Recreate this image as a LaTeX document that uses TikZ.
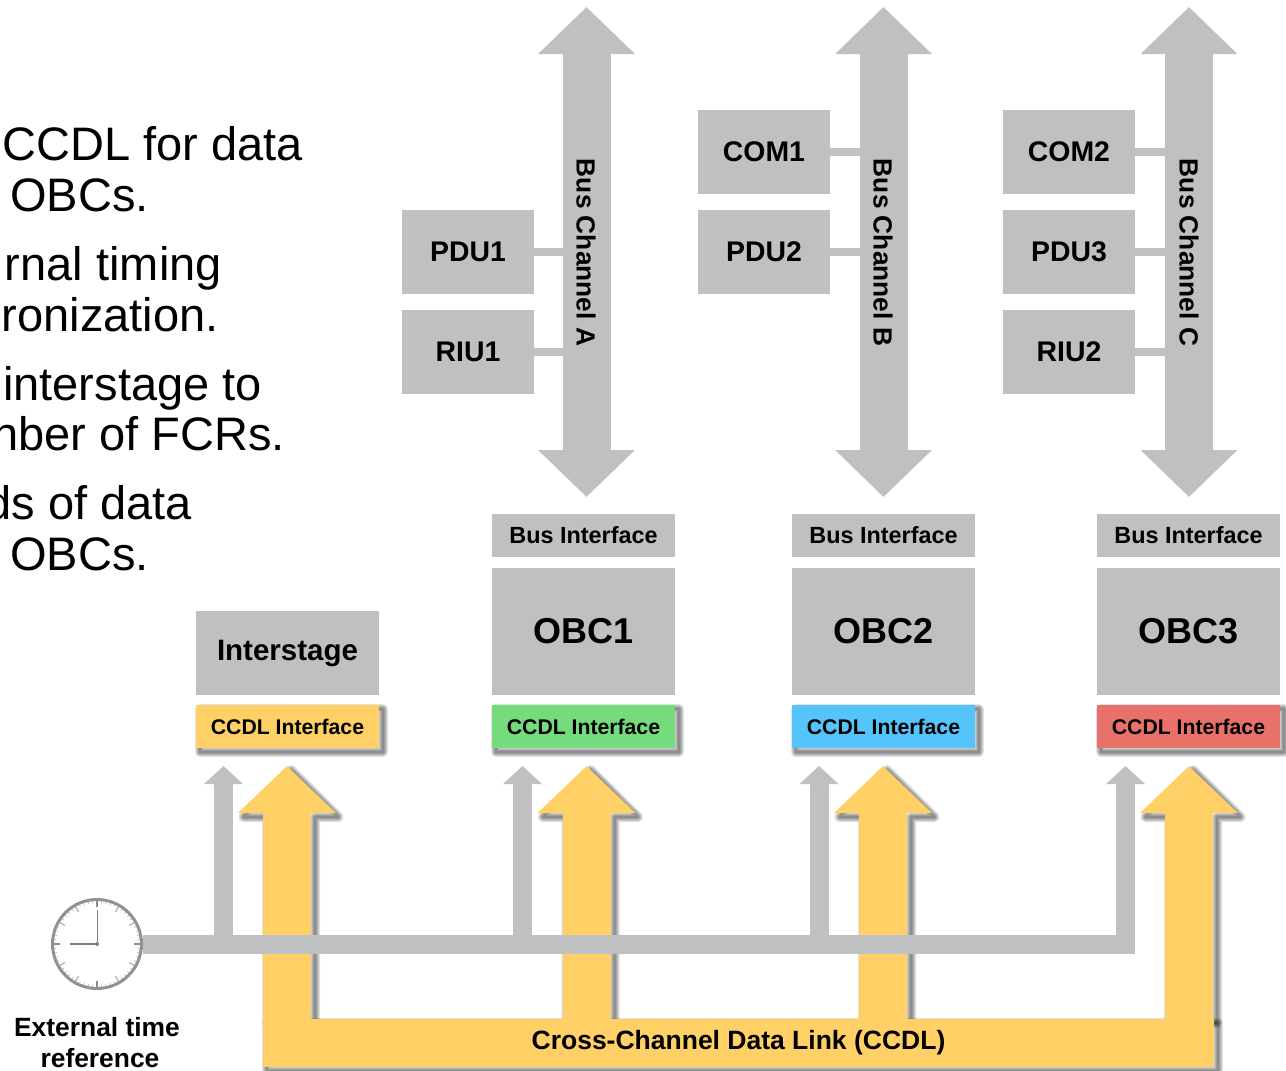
\documentclass[tikz,border=0pt]{standalone}
\usepackage{fontspec}
\setmainfont{Liberation Sans}
\usetikzlibrary{arrows.meta,calc}
\definecolor{gb}{HTML}{BFC0C2}
\definecolor{yl}{HTML}{FFD066}
\definecolor{gn}{HTML}{75DB7D}
\definecolor{bl}{HTML}{55C4FA}
\definecolor{rd}{HTML}{E8726A}
\newcommand\fsz[1]{\fontsize{#1}{#1}\selectfont}
\tikzset{
  shlayer/.style={preaction={draw=black,fill=none,draw opacity=.11,line width=#1,line join=round,transform canvas={shift={(4pt,-4pt)}}}},
  softshadow/.style={shlayer=10pt,shlayer=8pt,shlayer=6pt,shlayer=4pt,shlayer=2pt},
  graybox/.style={rectangle,fill=gb,inner sep=0pt,align=center,font=\bfseries\fsz{#1}},
  devbox/.style={graybox=28.4,minimum width=132pt,minimum height=84pt},
  obcbox/.style={graybox=36,minimum width=183pt,minimum height=127pt},
  busif/.style={graybox=23.4,minimum width=183pt,minimum height=43pt},
  ccdlif/.style={rectangle,fill=#1,inner sep=0pt,font=\bfseries\fsz{21.2},minimum width=183pt,minimum height=43pt,softshadow},
  stub/.style={draw=gb,line width=8pt},
  busarrow/.style={draw=gb,line width=48pt,{Triangle[length=47pt,width=94pt,fill=gb]}-{Triangle[length=47pt,width=94pt,fill=gb]}},
  dataarrow/.style={draw=yl,line width=48pt,-{Triangle[length=47pt,width=95pt,fill=yl]}},
  timearrow/.style={draw=gb,line width=19pt,-{Triangle[length=18pt,width=38pt,fill=gb]}},
  timeline/.style={draw=gb,line width=19pt,line join=miter},
  buslabel/.style={rotate=-90,inner sep=0pt,font=\bfseries\fsz{26.3}},
  bigtext/.style={anchor=base east,inner sep=0pt,font=\fsz{47}},
  smalllabel/.style={anchor=base,inner sep=0pt,font=\bfseries\fsz{26.4}},
}
\newcommand\yshadow[1]{%
  \path[softshadow] (#1,766)--(#1+47.5,813)--(#1+24,813)--(#1+24,1019)--(#1-24,1019)--(#1-24,813)--(#1-47.5,813)--cycle;}
\begin{document}
\begin{tikzpicture}[x=1pt,y=-1pt]
\useasboundingbox (0,0) rectangle (1286,1071);
\clip (0,0) rectangle (1286,1071);
\fill[white] (0,0) rectangle (1286,1071);

% left text
\node[bigtext] (t1) at (303,160) {CCDL for data};
\node[bigtext] (t2) at (149,211.5) {OBCs.};
\node[bigtext] (t3) at (222,280) {rnal timing};
\node[bigtext] (t4) at (219,331.5) {ronization.};
\node[bigtext] (t5) at (262,400) {interstage to};
\node[bigtext] (t6) at (285,450.5) {nber of FCRs.};
\node[bigtext] (t7) at (192,519.5) {ds of data};
\node[bigtext] (t8) at (149,570.5) {OBCs.};

% end coordinates
\coordinate (busAt) at (586.5,7);   \coordinate (busAb) at (586.5,497);
\coordinate (busBt) at (883.5,7);   \coordinate (busBb) at (883.5,497);
\coordinate (busCt) at (1189,7);    \coordinate (busCb) at (1189,497);
\coordinate (busAw) at (575,252);   \coordinate (busBw) at (872,252);  \coordinate (busCw) at (1177,252);
\coordinate (y0) at (287,766);  \coordinate (y1) at (586.5,766);
\coordinate (y2) at (883,766);  \coordinate (y3) at (1189,766);
\coordinate (g0) at (223.5,766); \coordinate (g1) at (522.5,766);
\coordinate (g2) at (819,766);   \coordinate (g3) at (1125.5,766);

% data link arrows
\yshadow{287}\yshadow{586.5}\yshadow{883}\yshadow{1189}
\node[rectangle,fill=yl,inner sep=0pt,minimum width=951pt,minimum height=48pt,font=\bfseries\fsz{26.5},softshadow] (link) at (738.5,1043) {Cross-Channel Data Link (CCDL)};
\foreach \e in {y0,y1,y2,y3}{
  \draw[dataarrow] (link.north -| \e) ++(0,2) -- (\e);
}

% clock
\node[circle,draw=black!43,fill=white,line width=3pt,minimum size=89pt,inner sep=0pt] (clock) at (97,944) {};
\foreach \a in {0,6,...,354}{
  \draw[black!25,line width=.8pt] ($(clock.center)+(\a:41)$) -- ($(clock.center)+(\a:43)$);
}
\foreach \a in {30,60,120,150,210,240,300,330}{
  \draw[black!35,line width=1pt] ($(clock.center)+(\a:37)$) -- ($(clock.center)+(\a:43)$);
}
\foreach \a in {0,90,180,270}{
  \draw[black!45,line width=1.2pt] ($(clock.center)+(\a:37)$) -- ($(clock.center)+(\a:43)$);
}
\draw[black!50,line width=1pt] (clock.center) -- ++(0,-34);
\draw[black!50,line width=2pt] (clock.center) -- ++(-27,0);
\fill[black!50] (clock.center) circle (2pt);
\node[smalllabel] (ext1) at (97,1036.5) {External time};
\node[smalllabel] (ext2) at (100,1067.5) {reference};

% time lines
\draw[timeline] (clock.east) -- (clock.east -| g3) -- ++(0,-150);
\draw[timearrow] (clock.center -| g3) -- (g3);
\foreach \e in {g0,g1,g2}{
  \draw[timearrow] (clock.center -| \e) -- (\e);
}

% buses
\draw[busarrow] (busAt) -- (busAb);
\draw[busarrow] (busBt) -- (busBb);
\draw[busarrow] (busCt) -- (busCb);
\node[buslabel] (labA) at (586,252.5) {Bus Channel A};
\node[buslabel] (labB) at (883,252.5) {Bus Channel B};
\node[buslabel] (labC) at (1189,252.5) {Bus Channel C};

% devices
\node[devbox] (pdu1) at (468,252) {PDU1};
\node[devbox] (riu1) at (468,352) {RIU1};
\node[devbox] (com1) at (764,152) {COM1};
\node[devbox] (pdu2) at (764,252) {PDU2};
\node[devbox] (com2) at (1069,152) {COM2};
\node[devbox] (pdu3) at (1069,252) {PDU3};
\node[devbox] (riu2) at (1069,352) {RIU2};
\foreach \n/\b in {pdu1/busAw,riu1/busAw,com1/busBw,pdu2/busBw,com2/busCw,pdu3/busCw,riu2/busCw}{
  \draw[stub] (\n.east) -- (\n.east -| \b);
}

% OBC columns
\node[obcbox] (obc1) at (583.5,631.5) {OBC1};
\node[obcbox] (obc2) at (883.5,631.5) {OBC2};
\node[obcbox] (obc3) at (1188.5,631.5) {OBC3};
\node[busif] (bi1) at (583.5,535.5) {Bus Interface};
\node[busif] (bi2) at (883.5,535.5) {Bus Interface};
\node[busif] (bi3) at (1188.5,535.5) {Bus Interface};
\node[graybox=29.5,minimum width=183pt,minimum height=84pt] (inter) at (287.5,653) {Interstage};
\node[ccdlif=yl] (c0) at (287.5,726.5) {CCDL Interface};
\node[ccdlif=gn] (c1) at (583.5,726.5) {CCDL Interface};
\node[ccdlif=bl] (c2) at (883.5,726.5) {CCDL Interface};
\node[ccdlif=rd] (c3) at (1188.5,726.5) {CCDL Interface};
\end{tikzpicture}
\end{document}
